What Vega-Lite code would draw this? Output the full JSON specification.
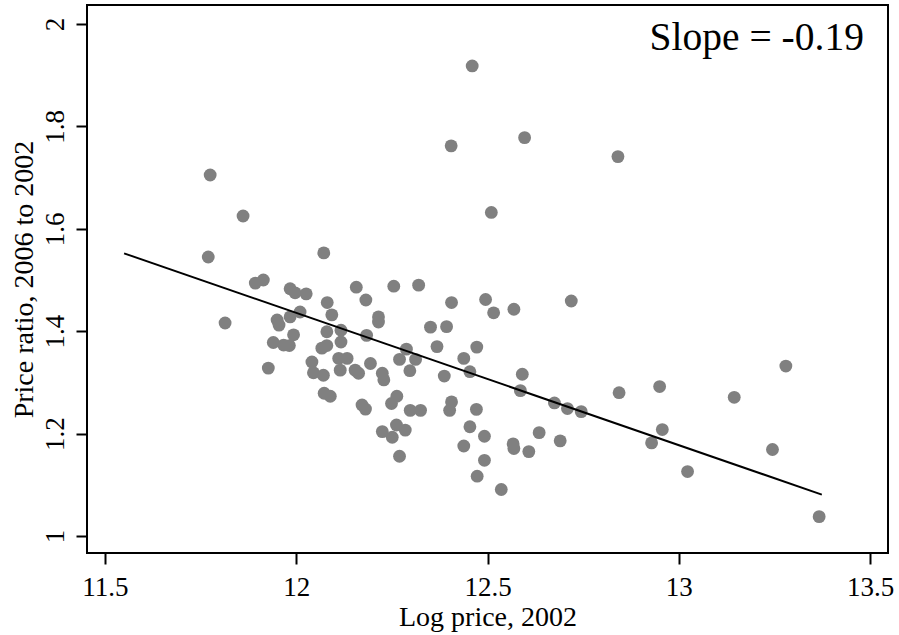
{
  "$schema": "https://vega.github.io/schema/vega-lite/v6.json",
  "width": 801,
  "height": 548,
  "autosize": {"type": "none"},
  "padding": {"left": 87, "top": 5, "right": 11, "bottom": 82},
  "background": "white",
  "config": {"view": {"stroke": "black", "strokeWidth": 2}, "font": "Liberation Serif"},
  "datasets": {
    "points": [
      {"x": 11.775, "y": 1.705}, {"x": 11.861, "y": 1.625}, {"x": 11.770, "y": 1.545}, {"x": 11.814, "y": 1.416},
      {"x": 11.893, "y": 1.494}, {"x": 11.914, "y": 1.500}, {"x": 11.927, "y": 1.328}, {"x": 12.072, "y": 1.553},
      {"x": 11.984, "y": 1.483}, {"x": 11.997, "y": 1.475}, {"x": 12.026, "y": 1.473}, {"x": 12.081, "y": 1.456},
      {"x": 11.950, "y": 1.422}, {"x": 11.955, "y": 1.412}, {"x": 11.984, "y": 1.428}, {"x": 12.010, "y": 1.4375},
      {"x": 12.093, "y": 1.432}, {"x": 12.080, "y": 1.399}, {"x": 12.117, "y": 1.402}, {"x": 11.993, "y": 1.393},
      {"x": 11.940, "y": 1.378}, {"x": 11.967, "y": 1.373}, {"x": 11.982, "y": 1.372}, {"x": 12.067, "y": 1.367},
      {"x": 12.080, "y": 1.372}, {"x": 12.117, "y": 1.379}, {"x": 12.041, "y": 1.340}, {"x": 12.045, "y": 1.319},
      {"x": 12.071, "y": 1.314}, {"x": 12.111, "y": 1.347}, {"x": 12.133, "y": 1.347}, {"x": 12.115, "y": 1.324},
      {"x": 12.154, "y": 1.324}, {"x": 12.163, "y": 1.318}, {"x": 12.194, "y": 1.337}, {"x": 12.225, "y": 1.318},
      {"x": 12.229, "y": 1.305}, {"x": 12.073, "y": 1.279}, {"x": 12.089, "y": 1.273}, {"x": 12.172, "y": 1.256},
      {"x": 12.181, "y": 1.248}, {"x": 12.249, "y": 1.259}, {"x": 12.263, "y": 1.273}, {"x": 12.225, "y": 1.204},
      {"x": 12.251, "y": 1.193}, {"x": 12.262, "y": 1.217}, {"x": 12.285, "y": 1.207}, {"x": 12.270, "y": 1.156},
      {"x": 12.157, "y": 1.486}, {"x": 12.182, "y": 1.461}, {"x": 12.255, "y": 1.488}, {"x": 12.320, "y": 1.490},
      {"x": 12.215, "y": 1.428}, {"x": 12.215, "y": 1.418}, {"x": 12.184, "y": 1.392}, {"x": 12.270, "y": 1.345},
      {"x": 12.288, "y": 1.365}, {"x": 12.312, "y": 1.345}, {"x": 12.297, "y": 1.323}, {"x": 12.351, "y": 1.408},
      {"x": 12.393, "y": 1.409}, {"x": 12.406, "y": 1.456}, {"x": 12.368, "y": 1.370}, {"x": 12.387, "y": 1.3125},
      {"x": 12.438, "y": 1.347}, {"x": 12.454, "y": 1.321}, {"x": 12.472, "y": 1.369}, {"x": 12.495, "y": 1.462},
      {"x": 12.516, "y": 1.436}, {"x": 12.569, "y": 1.443}, {"x": 12.719, "y": 1.459}, {"x": 12.591, "y": 1.316},
      {"x": 12.586, "y": 1.284}, {"x": 12.675, "y": 1.260}, {"x": 12.709, "y": 1.249}, {"x": 12.745, "y": 1.243},
      {"x": 12.844, "y": 1.280}, {"x": 12.298, "y": 1.2455}, {"x": 12.325, "y": 1.2455}, {"x": 12.406, "y": 1.262},
      {"x": 12.401, "y": 1.2455}, {"x": 12.471, "y": 1.2475}, {"x": 12.454, "y": 1.2135}, {"x": 12.492, "y": 1.195},
      {"x": 12.438, "y": 1.176}, {"x": 12.567, "y": 1.180}, {"x": 12.569, "y": 1.171}, {"x": 12.635, "y": 1.202},
      {"x": 12.690, "y": 1.186}, {"x": 12.608, "y": 1.165}, {"x": 12.492, "y": 1.148}, {"x": 12.473, "y": 1.117},
      {"x": 12.536, "y": 1.091}, {"x": 12.460, "y": 1.918}, {"x": 12.405, "y": 1.762}, {"x": 12.597, "y": 1.778},
      {"x": 12.841, "y": 1.741}, {"x": 12.510, "y": 1.632}, {"x": 13.280, "y": 1.332}, {"x": 12.950, "y": 1.292},
      {"x": 13.145, "y": 1.271}, {"x": 12.957, "y": 1.208}, {"x": 12.929, "y": 1.182}, {"x": 13.245, "y": 1.169},
      {"x": 13.023, "y": 1.126}, {"x": 13.367, "y": 1.038}
    ],
    "fit": [{"x": 11.55, "y": 1.552}, {"x": 13.374, "y": 1.081}],
    "note": [{"x": 13.484, "y": 1.949, "label": "Slope = -0.19"}]
  },
  "encoding": {
    "x": {
      "field": "x", "type": "quantitative",
      "scale": {"domain": [11.453, 13.547], "nice": false, "zero": false},
      "axis": {
        "values": [11.5, 12, 12.5, 13, 13.5], "format": "~g", "title": "Log price, 2002",
        "titleFontSize": 28, "titleFontWeight": "normal", "titleColor": "black", "titleFont": "Liberation Serif",
        "titlePadding": 3, "labelFontSize": 27, "labelColor": "black", "labelFont": "Liberation Serif",
        "labelPadding": 10, "labelFlush": false, "labelOverlap": false,
        "tickColor": "black", "tickWidth": 2, "tickSize": 11, "domain": false, "grid": false
      }
    },
    "y": {
      "field": "y", "type": "quantitative",
      "scale": {"domain": [0.967, 2.037], "nice": false, "zero": false},
      "axis": {
        "values": [1, 1.2, 1.4, 1.6, 1.8, 2], "format": "~g", "title": "Price ratio, 2006 to 2002",
        "titleFontSize": 28, "titleFontWeight": "normal", "titleColor": "black", "titleFont": "Liberation Serif",
        "titlePadding": 3, "labelFontSize": 27, "labelColor": "black", "labelFont": "Liberation Serif",
        "labelAngle": -90, "labelAlign": "center", "labelBaseline": "bottom",
        "labelPadding": 7, "labelFlush": false, "labelOverlap": false,
        "tickColor": "black", "tickWidth": 2, "tickSize": 11, "domain": false, "grid": false
      }
    }
  },
  "layer": [
    {"data": {"name": "points"}, "mark": {"type": "circle", "size": 165, "color": "#808080", "opacity": 1}},
    {"data": {"name": "fit"}, "mark": {"type": "line", "color": "black", "strokeWidth": 2}},
    {
      "data": {"name": "note"},
      "mark": {"type": "text", "align": "right", "baseline": "alphabetic", "fontSize": 39.5, "font": "Liberation Serif", "color": "black"},
      "encoding": {"text": {"field": "label", "type": "nominal"}}
    }
  ]
}
